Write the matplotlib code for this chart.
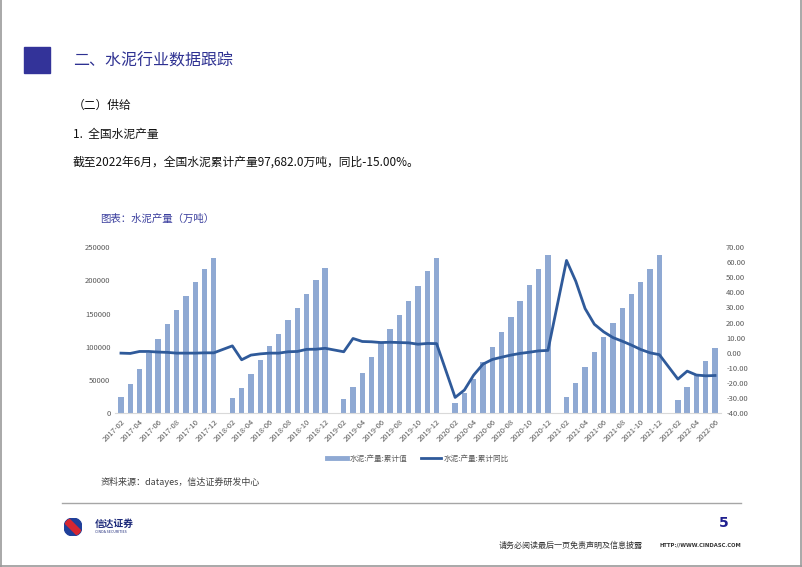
import numpy as np
import pandas as pd
import matplotlib
matplotlib.use('Agg')
import matplotlib.pyplot as plt
from matplotlib.patches import Rectangle, Circle
from matplotlib.lines import Line2D

plt.rcParams['font.family'] = ['Noto Sans CJK SC', 'DejaVu Sans']

W, H = 802, 567

# months on the x axis (January has no data)
months = pd.period_range('2017-02', '2022-06', freq='M').strftime('%Y-%m').tolist()

# 水泥:产量:累计值 (万吨)
output_cum = [
    24600, 44700, 66800, 91400, 112400, 133500, 154600, 176700, 197300, 216400, 233400,
    None, 22600, 38700, 58700, 80300, 100900, 119000, 139600, 158700, 179800, 200400, 218000,
    None, 21500, 40100, 61100, 84200, 105200, 127300, 147300, 169300, 191400, 213400, 233000,
    None, 15000, 30100, 51600, 76700, 100200, 122700, 145300, 168300, 192400, 216400, 238000,
    None, 25000, 45100, 69100, 92700, 115200, 136300, 157800, 178900, 197900, 217000, 237500,
    None, 20000, 39100, 57600, 79200, 97682,
]

# 水泥:产量:累计同比 (%)
output_yoy = [
    -0.2, -0.4, 0.9, 0.9, 0.5, 0.3, -0.2, -0.2, -0.2, 0.0, 0.0,
    None, 4.6, -4.6, -1.5, -0.7, -0.2, -0.2, 0.7, 0.9, 2.3, 2.4, 3.0,
    None, 0.7, 9.5, 7.5, 7.3, 6.8, 7.0, 6.8, 6.6, 5.7, 6.2, 6.1,
    None, -29.5, -24.6, -14.7, -7.5, -4.4, -2.9, -1.5, -0.4, 0.4, 1.3, 1.6,
    None, 61.1, 47.3, 29.3, 18.9, 13.9, 10.1, 7.7, 5.1, 2.2, 0.0, -1.2,
    None, -17.4, -12.1, -14.7, -15.2, -15.0,
]

bar_color = '#8fa9d3'
line_color = '#2f5a9a'
navy = '#2e3192'


def fx(x):
    return x / W


def fy(y):
    return 1 - y / H


fig = plt.figure(figsize=(W / 100, H / 100), dpi=100)

# page frame
for xs, ys in [([0.5, 0.5], [0, H]), ([W - 1.5, W - 1.5], [0, H]), ([0, W], [H - 1.5, H - 1.5])]:
    fig.add_artist(Line2D([fx(v) for v in xs], [fy(v) for v in ys], color='#9a9a9a', lw=1.2))

# header
fig.add_artist(Rectangle((fx(24), fy(73)), 26 / W, 26 / H, color='#333399'))
fig.text(fx(73), fy(61), '二、水泥行业数据跟踪', fontsize=11.5, color=navy, va='center')
fig.text(fx(73), fy(105), '（二）供给', fontsize=8.5, color='#111111', va='center', fontweight='medium')
fig.text(fx(73), fy(134), '1.  全国水泥产量', fontsize=8.5, color='#111111', va='center', fontweight='medium')
fig.text(fx(73), fy(162), '截至2022年6月，全国水泥累计产量97,682.0万吨，同比-15.00%。',
         fontsize=8.5, color='#111111', va='center')
fig.text(fx(100), fy(219), '图表：水泥产量（万吨）', fontsize=7.5, color='#3b3f9e', va='center')

# chart
x = np.arange(len(months))
ax = fig.add_axes([fx(115.4), fy(413.3), 605.2 / W, (413.3 - 247) / H])
bx = [i for i, v in zip(x, output_cum) if v is not None]
bv = [v for v in output_cum if v is not None]
ax.bar(bx, bv, width=0.58, color=bar_color, zorder=2)
ax.set_xlim(-0.6, len(months) - 0.4)
ax.set_ylim(0, 250000)
ax.set_yticks(range(0, 250001, 50000))
ax.set_xticks(x[::2])
ax.set_xticklabels(months[::2], rotation=45, ha='right', va='top', rotation_mode='anchor')
ax.tick_params(axis='both', length=0, labelsize=5.5, labelcolor='#595959')
ax.tick_params(axis='x', pad=3)
for s in ['top', 'right', 'left']:
    ax.spines[s].set_visible(False)
ax.spines['bottom'].set_color('#d9d9d9')
ax.spines['bottom'].set_linewidth(0.8)

ax2 = ax.twinx()
lx = [i for i, v in zip(x, output_yoy) if v is not None]
lv = [v for v in output_yoy if v is not None]
ax2.plot(lx, lv, color=line_color, lw=2, zorder=3)
ax2.set_ylim(-40, 70)
ax2.set_yticks(range(-40, 71, 10))
ax2.set_yticklabels(['{:.2f}'.format(v) for v in range(-40, 71, 10)])
ax2.tick_params(axis='y', length=0, labelsize=5.5, labelcolor='#595959', pad=4)
for s in ax2.spines.values():
    s.set_visible(False)

handles = [Line2D([], [], color=bar_color, lw=3.5),
           Line2D([], [], color=line_color, lw=2)]
fig.legend(handles, ['水泥:产量:累计值', '水泥:产量:累计同比'], loc='center',
           bbox_to_anchor=(fx(418), fy(459)), ncol=2, frameon=False, fontsize=5.5,
           handlelength=2.6, columnspacing=1.7, handletextpad=0.4, labelcolor='#595959')

fig.text(fx(101), fy(482), '资料来源：datayes，信达证券研发中心', fontsize=6.5,
         color='#404040', style='italic', va='center')

# footer
fig.add_artist(Line2D([fx(62), fx(741)], [fy(503), fy(503)], color='#a6a6a6', lw=1))
logo = fig.add_axes([fx(64), fy(536), 18 / W, 18 / H])
logo.set_xlim(-1, 1)
logo.set_ylim(-1, 1)
logo.set_aspect('equal')
logo.axis('off')
c = Circle((0, 0), 1, color='#1f3f99')
logo.add_patch(c)
for off in [-0.35, 0.0, 0.35]:
    ln, = logo.plot([-1, 1], [1 + off, -1 + off], color='#d62631', lw=2)
    ln.set_clip_path(c)
fig.text(fx(95), fy(524), '信达证券', fontsize=7, color='#1d2a7a', fontweight='bold', va='center')
fig.text(fx(95), fy(532), 'CINDA SECURITIES', fontsize=2.6, color='#1d2a7a', va='center')
fig.text(fx(724), fy(523), '5', fontsize=10, color='#1f1f8f', fontweight='bold', ha='center', va='center',
         family='DejaVu Sans')
fig.text(fx(499), fy(545), '请务必阅读最后一页免责声明及信息披露', fontsize=5.8, color='#333333', va='center')
fig.text(fx(741), fy(545), 'HTTP://WWW.CINDASC.COM', fontsize=3.8, color='#333333', va='center',
         ha='right', fontweight='bold', family='DejaVu Sans')

fig.savefig('out.png', dpi=100)
